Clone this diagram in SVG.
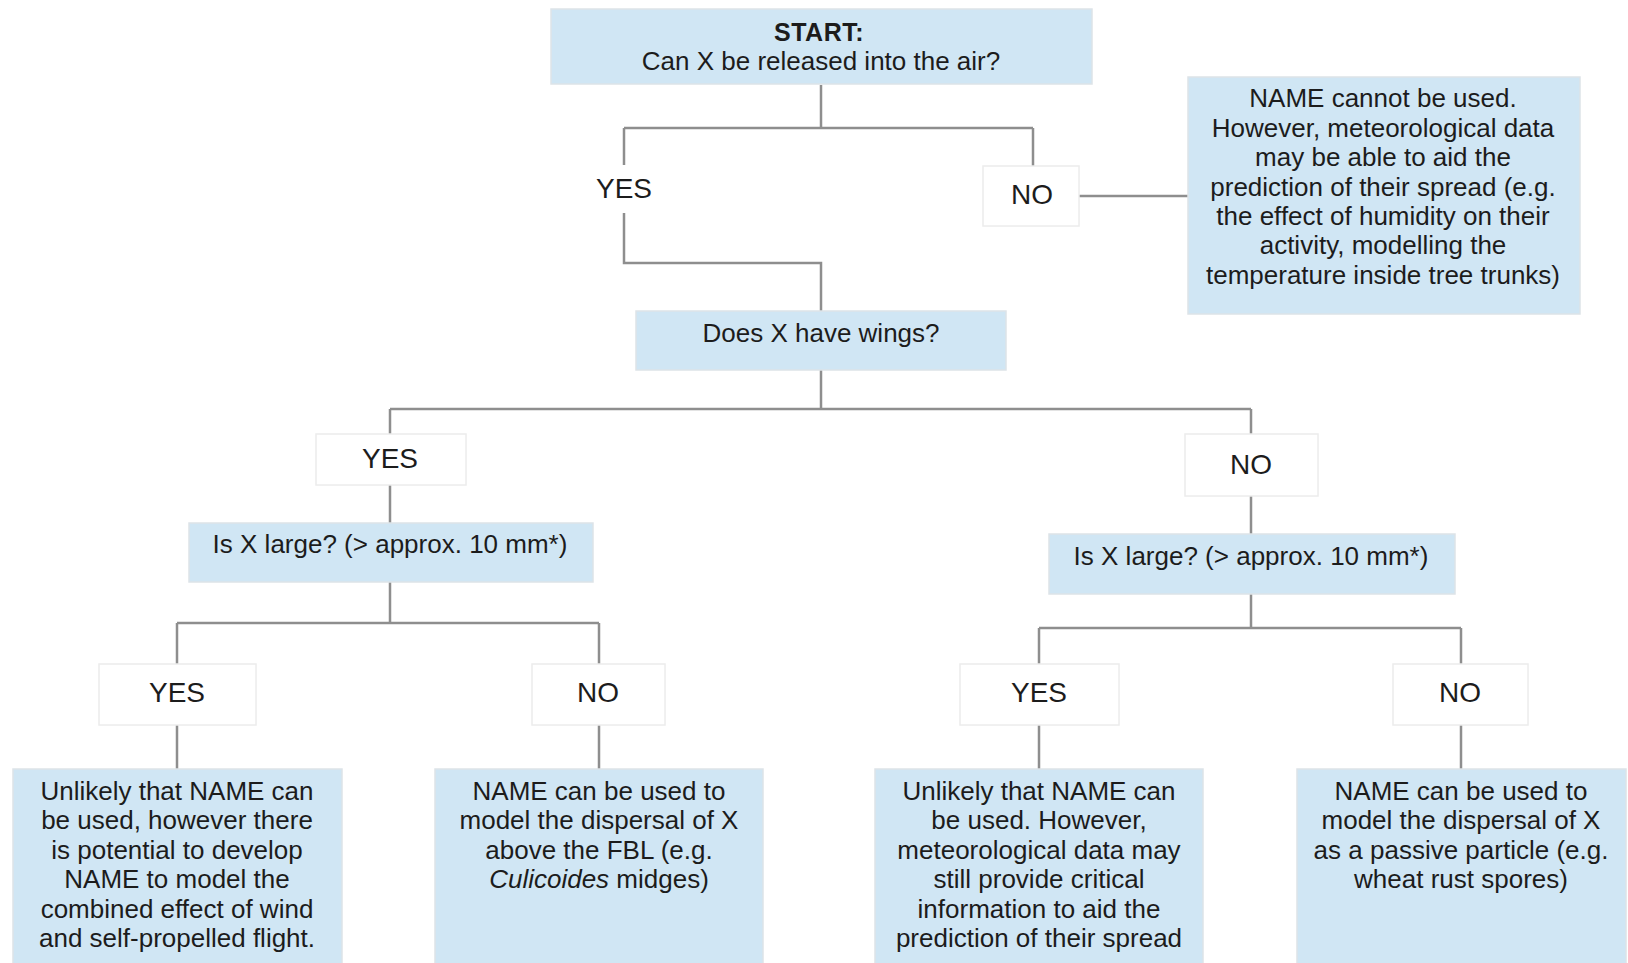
<svg xmlns="http://www.w3.org/2000/svg" width="1628" height="963" viewBox="0 0 1628 963">
<style>
.q{fill:#d0e6f4;stroke:#dde3e8;stroke-width:1.5}
.a{fill:#ffffff;stroke:#ececec;stroke-width:1.5}
text{font-family:"Liberation Sans",Arial,sans-serif;font-size:26px;fill:#1c1c1c;text-anchor:middle}
.l{font-size:28px}
.c line,.c path{stroke:#8e8e8e;stroke-width:2.5;fill:none}
</style>
<rect width="1628" height="963" fill="#ffffff"/>
<g class="c" id="connectors">
<path d="M821 85 V128 M624 128 H1033 M624 128 V165 M624 213 V263 H821 V311"/>
<path d="M1033 128 V166 M1057 196 H1188"/>
<path d="M821 370 V409 M390 409 H1251 M390 409 V434 M390 485 V523 M1251 409 V434 M1251 496 V534"/>
<path d="M390 582 V623 M177 623 H599 M177 623 V664 M599 623 V664 M177 725 V769 M599 725 V769"/>
<path d="M1251 594 V628 M1039 628 H1461 M1039 628 V664 M1461 628 V664 M1039 725 V769 M1461 725 V769"/>
</g>
<g id="start"><rect class="q" x="551" y="9" width="541" height="75"/>
<text x="819" y="41" font-weight="bold" style="font-size:25px;letter-spacing:0.5px">START:</text>
<text x="821" y="70">Can X be released into the air?</text></g>
<g id="yes1"><text class="l" x="624" y="198">YES</text></g>
<g id="no1"><rect class="a" x="983" y="166" width="96" height="60"/><text class="l" x="1032" y="204">NO</text></g>
<g id="nouse"><rect class="q" x="1188" y="77" width="392" height="237"/>
<text x="1383" y="107">NAME cannot be used.</text>
<text x="1383" y="137">However, meteorological data</text>
<text x="1383" y="166">may be able to aid the</text>
<text x="1383" y="196">prediction of their spread (e.g.</text>
<text x="1383" y="225">the effect of humidity on their</text>
<text x="1383" y="254">activity, modelling the</text>
<text x="1383" y="284">temperature inside tree trunks)</text></g>
<g id="wings"><rect class="q" x="636" y="311" width="370" height="59"/><text x="821" y="342">Does X have wings?</text></g>
<g id="yes2"><rect class="a" x="316" y="434" width="150" height="51"/><text class="l" x="390" y="468">YES</text></g>
<g id="no2"><rect class="a" x="1185" y="434" width="133" height="62"/><text class="l" x="1251" y="474">NO</text></g>
<g id="large1"><rect class="q" x="189" y="523" width="404" height="59"/><text x="390" y="553">Is X large? (&gt; approx. 10 mm*)</text></g>
<g id="large2"><rect class="q" x="1049" y="534" width="406" height="60"/><text x="1251" y="565">Is X large? (&gt; approx. 10 mm*)</text></g>
<g id="yes3"><rect class="a" x="99" y="664" width="157" height="61"/><text class="l" x="177" y="702">YES</text></g>
<g id="no3"><rect class="a" x="532" y="664" width="133" height="61"/><text class="l" x="598" y="702">NO</text></g>
<g id="yes4"><rect class="a" x="960" y="664" width="159" height="61"/><text class="l" x="1039" y="702">YES</text></g>
<g id="no4"><rect class="a" x="1393" y="664" width="135" height="61"/><text class="l" x="1460" y="702">NO</text></g>
<g id="out1"><rect class="q" x="13" y="769" width="329" height="200"/>
<text x="177" y="800">Unlikely that NAME can</text>
<text x="177" y="829">be used, however there</text>
<text x="177" y="859">is potential to develop</text>
<text x="177" y="888">NAME to model the</text>
<text x="177" y="918">combined effect of wind</text>
<text x="177" y="947">and self-propelled flight.</text></g>
<g id="out2"><rect class="q" x="435" y="769" width="328" height="200"/>
<text x="599" y="800">NAME can be used to</text>
<text x="599" y="829">model the dispersal of X</text>
<text x="599" y="859">above the FBL (e.g.</text>
<text x="599" y="888"><tspan font-style="italic">Culicoides</tspan> midges)</text></g>
<g id="out3"><rect class="q" x="875" y="769" width="328" height="200"/>
<text x="1039" y="800">Unlikely that NAME can</text>
<text x="1039" y="829">be used. However,</text>
<text x="1039" y="859">meteorological data may</text>
<text x="1039" y="888">still provide critical</text>
<text x="1039" y="918">information to aid the</text>
<text x="1039" y="947">prediction of their spread</text></g>
<g id="out4"><rect class="q" x="1297" y="769" width="329" height="200"/>
<text x="1461" y="800">NAME can be used to</text>
<text x="1461" y="829">model the dispersal of X</text>
<text x="1461" y="859">as a passive particle (e.g.</text>
<text x="1461" y="888">wheat rust spores)</text></g>
</svg>
